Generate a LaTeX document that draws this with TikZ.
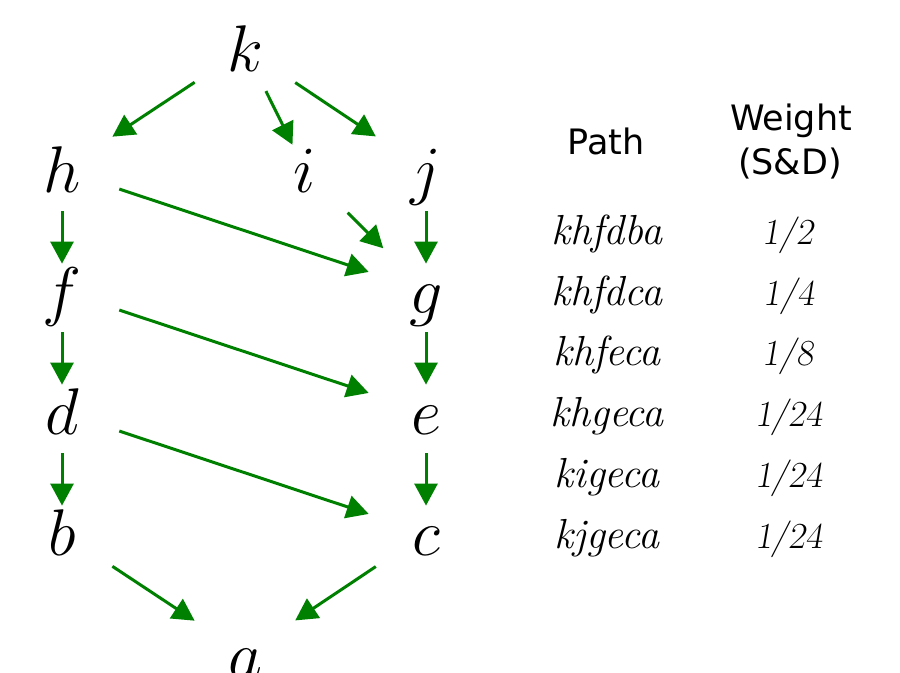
\RequirePackage{fix-cm}
\documentclass[tikz,border=0pt]{standalone}
\usepackage{fontspec}
\newfontfamily\hdrfont{DejaVu Sans}
\usetikzlibrary{arrows.meta}
\definecolor{arrgreen}{RGB}{0,128,0}
\begin{document}
\begin{tikzpicture}[x=0.5pt,y=-0.5pt,
  lt/.style={circle, minimum size=60pt, inner sep=0pt, text height=23pt, text depth=0pt,
             font=\fontsize{33}{40}\selectfont},
  arr/.style={draw=arrgreen, line width=1.5pt, -{Triangle[length=11pt,width=11.5pt]}, fill=arrgreen},
  vert/.style={arr, shorten <=-9.5pt, shorten >=-16.5pt},
  hd/.style={anchor=base, inner sep=0pt, font=\hdrfont\fontsize{17.5}{21}\selectfont},
  cell/.style={anchor=base, inner sep=0pt, font=\fontsize{18.4}{22}\selectfont},
  pcell/.style={cell, font=\fontsize{21}{25}\selectfont\itshape\addfontfeature{LetterSpace=5}}]
\useasboundingbox (0,0) rectangle (900,673);
\clip (0,0) rectangle (900,673);
% graph nodes
\node[lt] (k) at (245,49) {$k$};
\node[lt] (h) at (62,170) {$h$};
\node[lt] (i) at (305,170) {$i$};
\node[lt] (j) at (426,170) {$j$};
\node[lt] (f) at (62,291) {$f$};
\node[lt] (g) at (426,291) {$g$};
\node[lt] (d) at (62,412) {$d$};
\node[lt] (e) at (426,412) {$e$};
\node[lt] (b) at (62,533) {$b$};
\node[lt] (c) at (426,533) {$c$};
\node[lt] (a) at (245,654) {$a$};
% connectors
\draw[arr] (k) -- (h);
\draw[arr, shorten <=-6.7pt, shorten >=-16.1pt] (k) -- (i);
\draw[arr] (k) -- (j);
\draw[vert] (h) -- (f);
\draw[vert] (f) -- (d);
\draw[vert] (d) -- (b);
\draw[vert] (j) -- (g);
\draw[vert] (g) -- (e);
\draw[vert] (e) -- (c);
\draw[arr] (h) -- (g);
\draw[arr] (i) -- (g);
\draw[arr] (f) -- (e);
\draw[arr] (d) -- (c);
\draw[arr] (b) -- (a);
\draw[arr] (c) -- (a);
% table
\node[hd] (ph) at (606,154.5) {Path};
\node[hd] (wh1) at (791,131) {Weight};
\node[hd] (wh2) at (790,175) {(S\&D)};
\node[pcell] (p1) at (607,245) {khfdba};
\node[pcell] (p2) at (607,306) {khfdca};
\node[pcell] (p3) at (607,366) {khfeca};
\node[pcell] (p4) at (607,427) {khgeca};
\node[pcell] (p5) at (607,488) {kigeca};
\node[pcell] (p6) at (607,549) {kjgeca};
\node[cell] (w1) at (789,245) {\textsl{1/2}};
\node[cell] (w2) at (789,306) {\textsl{1/4}};
\node[cell] (w3) at (789,366) {\textsl{1/8}};
\node[cell] (w4) at (789,427) {\textsl{1/24}};
\node[cell] (w5) at (789,488) {\textsl{1/24}};
\node[cell] (w6) at (789,549) {\textsl{1/24}};
\end{tikzpicture}
\end{document}
